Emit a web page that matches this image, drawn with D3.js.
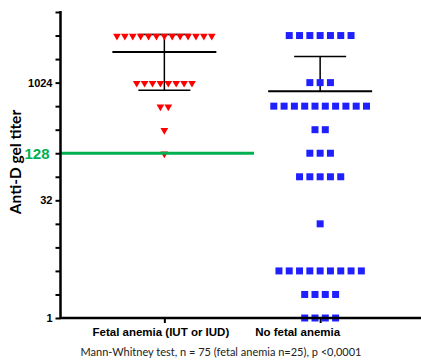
<!DOCTYPE html>
<html>
<head>
<meta charset="utf-8">
<script src="https://cdn.jsdelivr.net/npm/d3@7"></script>
<style>
  body { margin: 0; background: #fff; }
  svg { display: block; font-family: Lato, "Open Sans", sans-serif; }
</style>
</head>
<body>
<div id="chart"></div>
<script>
// groups on the x axis
const categories = ['Fetal anemia (IUT or IUD)', 'No fetal anemia'];

// anti-D titers, one value per patient
const anemiaTiters = [
  4096, 4096, 4096, 4096, 4096, 4096, 4096, 4096, 4096, 4096, 4096, 4096, 4096,
  1024, 1024, 1024, 1024, 1024, 1024, 1024, 1024,
  512, 512,
  256,
  128
];
const noAnemiaTiters = [
  4096, 4096, 4096, 4096, 4096, 4096, 4096,
  1024, 1024, 1024,
  512, 512, 512, 512, 512, 512, 512, 512, 512, 512,
  256, 256,
  128, 128, 128,
  64, 64, 64, 64, 64,
  16,
  4, 4, 4, 4, 4, 4, 4, 4, 4,
  2, 2, 2, 2,
  1, 1, 1, 1
];

const yTicks = [1, 2, 4, 8, 16, 32, 64, 128, 256, 512, 1024, 2048, 4096, 8192];
const yLabels = [1, 32, 128, 1024];
const thresholdTiter = 128;
const footnote = 'Mann-Whitney test, n = 75 (fetal anemia n=25), p <0,0001';

const width = 421, height = 362;
const svg = d3.select('#chart').append('svg')
  .attr('width', width)
  .attr('height', height);

const y = d3.scaleLog().base(2)
  .domain([1, 8192])
  .range([318, 12]);

const x = d3.scalePoint()
  .domain(categories)
  .range([60.5, 424])
  .padding(2 / 3);

// spread points of equal value sideways like a column scatter
function spread(values, step) {
  const out = [];
  d3.groups(values, d => d).forEach(([v, arr]) => {
    arr.forEach((_, i) => {
      out.push({ v: v, off: (i - (arr.length - 1) / 2) * step });
    });
  });
  return out;
}

const groups = [
  { name: categories[0], values: anemiaTiters, step: 7.9, symbol: 'tri', color: '#ff0000' },
  { name: categories[1], values: noAnemiaTiters, step: 10.3, symbol: 'sq', color: '#2020ff' }
];

// mean +/- SD bars
groups.forEach(g => {
  const m = d3.mean(g.values);
  const sd = d3.deviation(g.values);
  const cx = x(g.name);
  const lo = m - sd > 0 ? y(m - sd) : y(m);
  const bars = svg.append('g').attr('stroke', '#000').attr('fill', 'none');
  bars.append('line')
    .attr('x1', cx).attr('x2', cx)
    .attr('y1', y(m + sd)).attr('y2', lo)
    .attr('stroke-width', 1.5);
  bars.append('line')
    .attr('x1', cx - 52).attr('x2', cx + 52)
    .attr('y1', y(m)).attr('y2', y(m))
    .attr('stroke-width', 2);
  bars.append('line')
    .attr('x1', cx - 26).attr('x2', cx + 26)
    .attr('y1', y(m + sd)).attr('y2', y(m + sd))
    .attr('stroke-width', 1.5);
  if (m - sd > 0) {
    bars.append('line')
      .attr('x1', cx - 26).attr('x2', cx + 26)
      .attr('y1', y(m - sd)).attr('y2', y(m - sd))
      .attr('stroke-width', 1.5);
  }
});

const triangle = d3.symbol(d3.symbolTriangle, 26);
const square = d3.symbol(d3.symbolSquare, 49);

groups.forEach(g => {
  svg.append('g').selectAll('path')
    .data(spread(g.values, g.step))
    .enter()
    .append('path')
    .attr('d', g.symbol === 'tri' ? triangle() : square())
    .attr('fill', g.color)
    .attr('transform', d => g.symbol === 'tri'
      ? 'translate(' + (x(g.name) + d.off) + ',' + (y(d.v) + 0.5) + ') rotate(180)'
      : 'translate(' + (x(g.name) + d.off) + ',' + y(d.v) + ')');
});

// green threshold line
svg.append('line')
  .attr('x1', 60).attr('x2', 254)
  .attr('y1', y(thresholdTiter)).attr('y2', y(thresholdTiter))
  .attr('stroke', '#00b050')
  .attr('stroke-width', 3);

// y axis
const yAxis = svg.append('g')
  .attr('transform', 'translate(60.5,0)')
  .call(d3.axisLeft(y)
    .tickValues(yTicks)
    .tickSize(5)
    .tickPadding(3)
    .tickFormat(d => yLabels.includes(d) ? d : ''));
yAxis.select('.domain').attr('stroke-width', 2.5).attr('d', 'M0,' + (y(8192) - 1) + 'V' + y(1));
yAxis.selectAll('.tick line').attr('stroke-width', 2);
yAxis.selectAll('.tick text')
  .attr('font-size', 11)
  .attr('font-weight', 'bold')
  .attr('fill', '#000');
yAxis.selectAll('.tick text')
  .filter(d => d === thresholdTiter)
  .attr('font-size', 15)
  .attr('dx', -3)
  .attr('fill', '#00b050');

// x axis
const xAxis = svg.append('g')
  .attr('transform', 'translate(0,' + y(1) + ')')
  .call(d3.axisBottom(x).tickSize(5).tickPadding(5));
xAxis.select('.domain').attr('stroke-width', 2.5).attr('d', 'M60,0H424');
xAxis.selectAll('.tick line').attr('stroke-width', 2);
xAxis.selectAll('.tick text')
  .attr('font-size', 11.5)
  .attr('font-weight', 'bold')
  .attr('fill', '#000')
  .attr('dx', (d, i) => i === 0 ? -4 : -23);

// y label
svg.append('text')
  .attr('transform', 'translate(21,162) rotate(-90)')
  .attr('text-anchor', 'middle')
  .attr('font-size', 15.5)
  .attr('font-weight', 'bold')
  .text('Anti-D gel titer');

svg.append('text')
  .attr('x', 221)
  .attr('y', 356)
  .attr('text-anchor', 'middle')
  .attr('font-size', 11)
  .attr('fill', '#222')
  .text(footnote);
</script>
</body>
</html>
